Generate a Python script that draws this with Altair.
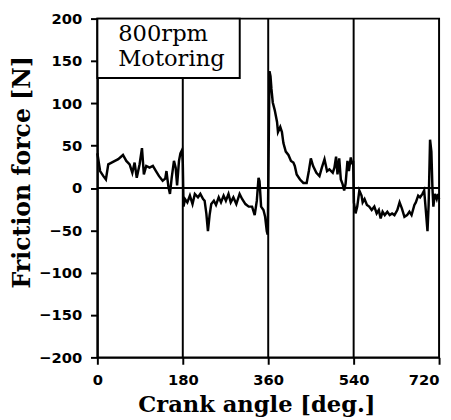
import altair as alt
import pandas as pd

# Crank angle [deg.] and friction force [N]
angle = [0, 2.5, 5.8, 12.7, 18, 23, 30, 37, 44, 54, 61, 68, 73.7, 78.5, 83, 89, 94, 98, 103,
         110, 117, 123.5, 130, 137.6, 143, 145.6, 149.8, 153, 156.6, 161.4, 165, 168, 172, 175,
         178.5, 180, 181.6, 184.7, 189.6, 195, 200.5, 205.4, 212, 217, 222.8, 226, 229.6, 233,
         236.5, 240, 245.5, 250, 255.7, 260.5, 266, 270.8, 276.3, 281, 286.6, 292.8, 299.7, 305,
         312, 319, 326, 331.5, 336, 339.6, 341.7, 345, 350, 353.5, 357, 359, 362.7, 364.8,
         366.8, 369.6, 373.7, 378.6, 380.6, 385.4, 388.9, 392, 397, 402.6, 408, 413, 416, 420,
         427, 434, 441, 445.6, 449.8, 454.6, 461.5, 468, 473, 478.6, 484, 489, 496, 499.5, 503,
         506, 509.6, 513, 516.5, 520, 523, 527, 530, 534, 537, 539, 540.6, 544, 547.6, 552,
         556.6, 559, 563, 568, 572.8, 578, 583.6, 588.5, 593, 596.9, 601, 605.6, 611, 616, 621,
         626, 632, 636.8, 641.6, 647, 652.6, 657.5, 662, 668, 671, 676, 680, 685, 688.6, 692,
         695.6, 698, 701, 703.8, 706, 708, 711, 715, 717.6, 720]
force = [41, 32, 20, 14, 10, 28, 30, 32, 34, 39, 32, 28, 18, 30, 12, 28, 47, 16, 26,
         24, 26, 20, 14, 8.5, 11, 20, 1, -7, 12, 32, 24, 3, 32, 41,
         45, 30, -22, -13, -17, -9, -19, -7, -11, -7, -13, -15, -30, -51,
         -32, -19, -15, -20, -11, -17, -9, -15, -7, -17, -11, -19, -7, -13,
         -19, -22, -22, -32, -15, 12, 8, -22, -26, -34, -51, -55, 138, 132,
         117, 101, 92, 78, 66, 72, 66, 53, 43, 39, 32, 30, 26, 16,
         10, 6, 6, 20, 35, 26, 18, 14, 24, 34, 20, 22, 18, 24, 37,
         16, 35, 10, 5, -3, 5, 32, 20, 36, 28, 32, -17, -30, -22, -3,
         -9, -17, -13, -20, -22, -26, -22, -30, -26, -36, -28, -32, -28, -32, -30,
         -32, -26, -17, -24, -34, -32, -28, -32, -20, -17, -9, -11, -7, -3, -26,
         -51, -20, 57, 43, 0, -22, -7, -13, -7, -13]

x_ticks = [0, 180, 360, 540, 720]
y_ticks = [-200, -150, -100, -50, 0, 50, 100, 150, 200]
marker_angles = [180, 360, 540]
marker_top = [130, 200, 200]

box_x = [0, 300]
box_y = [130, 200]
label_lines = ["800rpm", "Motoring"]
label_x = [44, 44]
label_y = [174, 144]

df = pd.DataFrame({"angle": angle, "force": force})
markers = pd.DataFrame({"angle": marker_angles, "top": marker_top, "bottom": [-200] * 3})
zero = pd.DataFrame({"y": [0]})
box = pd.DataFrame({"x": [box_x[0]], "x2": [box_x[1]], "y": [box_y[0]], "y2": [box_y[1]]})
labels = pd.DataFrame({"text": label_lines, "x": label_x, "y": label_y})

xs = alt.Scale(domain=[0, 720], nice=False, zero=False)
ys = alt.Scale(domain=[-200, 200], nice=False)

x_axis = alt.Axis(values=x_ticks, title="Crank angle [deg.]", grid=False,
                  labelAlign=alt.expr("datum.value == 720 ? 'right' : 'center'"),
                  labelPadding=9,
                  titleX=162, titleY=37, titleBaseline="top", titleAnchor="start",
                  titleAlign="center", titleFontSize=23)
y_axis = alt.Axis(values=y_ticks, title="Friction force [N]", grid=False,
                  titleX=-88, titleY=156, titleBaseline="top", titleAlign="center",
                  titleAngle=270)

line = alt.Chart(df).mark_line(color="black", strokeWidth=2.5).encode(
    x=alt.X("angle:Q", scale=xs, axis=x_axis),
    y=alt.Y("force:Q", scale=ys, axis=y_axis),
)

vrules = alt.Chart(markers).mark_rule(color="black", strokeWidth=2).encode(
    x=alt.X("angle:Q", scale=xs),
    y=alt.Y("bottom:Q", scale=ys),
    y2="top:Q",
)

hrule = alt.Chart(zero).mark_rule(color="black", strokeWidth=2).encode(
    y=alt.Y("y:Q", scale=ys),
)

rect = alt.Chart(box).mark_rect(fill="white", stroke="black", strokeWidth=2).encode(
    x=alt.X("x:Q", scale=xs), x2="x2:Q",
    y=alt.Y("y:Q", scale=ys), y2="y2:Q",
)

text = alt.Chart(labels).mark_text(align="left", baseline="alphabetic", font="DejaVu Serif",
                                   fontSize=23, color="black").encode(
    x=alt.X("x:Q", scale=xs),
    y=alt.Y("y:Q", scale=ys),
    text="text:N",
)

chart = alt.layer(vrules, hrule, line, rect, text).properties(
    width=348, height=345,
    autosize=alt.AutoSizeParams(type="none"),
    padding={"left": 91, "top": 7, "right": 4, "bottom": 62},
).configure_view(stroke="black", strokeWidth=2).configure_axis(
    domainColor="black", domainWidth=2, tickColor="black", tickWidth=2, tickSize=7,
    labelFont="DejaVu Sans", labelFontWeight="bold", labelFontSize=15, labelColor="black",
    labelPadding=8,
    titleFont="DejaVu Serif", titleFontWeight="bold", titleFontSize=24, titleColor="black",
).configure_axisY(labelPadding=9)

chart.save("out.html", embed_options={"renderer": "svg", "actions": False})
